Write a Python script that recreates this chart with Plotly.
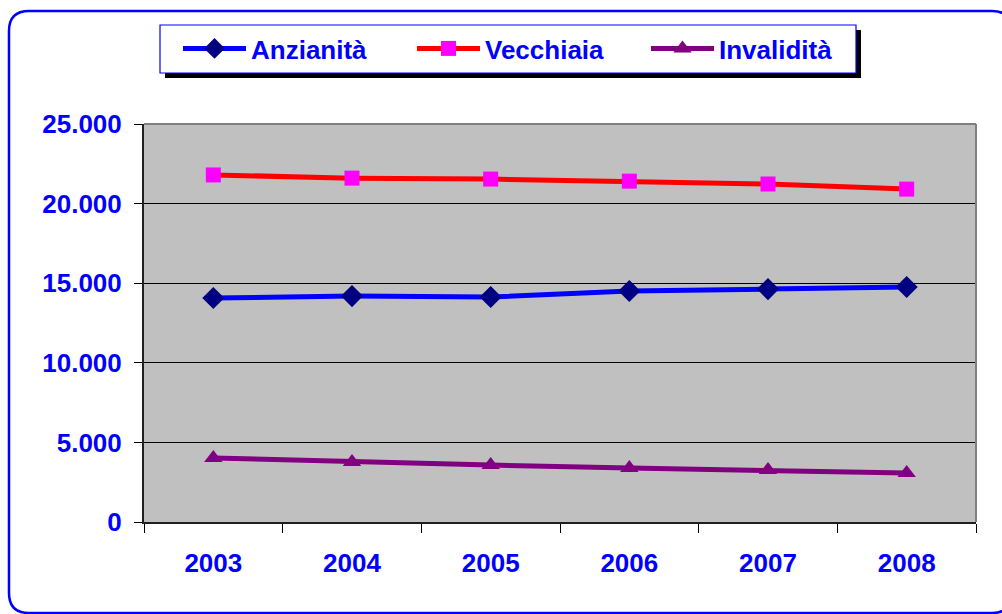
import plotly.graph_objects as go

years = ["2003", "2004", "2005", "2006", "2007", "2008"]
anzianita = [14070, 14190, 14130, 14510, 14630, 14760]
vecchiaia = [21800, 21600, 21540, 21410, 21230, 20910]
invalidita = [4020, 3770, 3580, 3390, 3270, 3080]
y_ticks = [0, 5000, 10000, 15000, 20000, 25000]

W, H = 1002, 614
L, R, T, B = 144, 26, 124, 92
PW, PH = W - L - R, H - T - B

def px(x):
    return (x - L) / PW

def py(y):
    return (H - B - y) / PH

FONT = "Liberation Sans, Arial, sans-serif"
BLUE = "#0000FF"

fig = go.Figure()
fig.add_trace(go.Scatter(x=years, y=anzianita, name="Anzianità", mode="lines+markers",
                         line=dict(color="#0000FF", width=5),
                         marker=dict(symbol="diamond", size=17, color="#000080")))
fig.add_trace(go.Scatter(x=years, y=vecchiaia, name="Vecchiaia", mode="lines+markers",
                         line=dict(color="#FF0000", width=5),
                         marker=dict(symbol="square", size=15, color="#FF00FF")))
fig.add_trace(go.Scatter(x=years, y=invalidita, name="Invalidità", mode="lines+markers",
                         line=dict(color="#800080", width=5),
                         marker=dict(symbol="triangle-up", size=16, color="#800080")))

# outer rounded border
x0, y0, x1, y1, r = 9, 11, 1012, 613, 20
path = (f"M {px(x0)},{py(y0 + r)} Q {px(x0)},{py(y0)} {px(x0 + r)},{py(y0)} "
        f"L {px(x1 - r)},{py(y0)} Q {px(x1)},{py(y0)} {px(x1)},{py(y0 + r)} "
        f"L {px(x1)},{py(y1 - r)} Q {px(x1)},{py(y1)} {px(x1 - r)},{py(y1)} "
        f"L {px(x0 + r)},{py(y1)} Q {px(x0)},{py(y1)} {px(x0)},{py(y1 - r)} Z")
shapes = [
    dict(type="path", path=path, xref="paper", yref="paper",
         line=dict(color=BLUE, width=2.5), layer="below"),
    # legend shadow and box
    dict(type="rect", xref="paper", yref="paper", x0=px(165), x1=px(861), y0=py(30), y1=py(78),
         fillcolor="black", line=dict(width=0), layer="below"),
    dict(type="rect", xref="paper", yref="paper", x0=px(160), x1=px(856), y0=py(25), y1=py(73),
         fillcolor="white", line=dict(width=1.2, color=BLUE), layer="below"),
    # plot frame top / right
    dict(type="line", xref="paper", yref="paper", x0=0, x1=1, y0=1, y1=1,
         line=dict(color="#808080", width=2)),
    dict(type="line", xref="paper", yref="paper", x0=1, x1=1, y0=0, y1=1,
         line=dict(color="#808080", width=2)),
]

fig.update_layout(
    width=W, height=H,
    margin=dict(l=L, r=R, t=T, b=B, autoexpand=False),
    paper_bgcolor="white", plot_bgcolor="#C0C0C0",
    separators=",.",
    font=dict(family=FONT, color=BLUE, size=26),
    shapes=shapes,
    showlegend=True,
    legend=dict(orientation="h", x=px(160), y=py(25), xanchor="left", yanchor="top",
                bgcolor="rgba(0,0,0,0)", borderwidth=0, indentation=18,
                font=dict(family=FONT, size=26, color=BLUE, weight="bold"),
                entrywidth=138, entrywidthmode="pixels", itemwidth=63,
                traceorder="normal"),
    xaxis=dict(type="category", range=[-0.5, 5.5], tickson="boundaries",
               ticks="outside", ticklen=9, tickcolor="black", tickwidth=1,
               showgrid=False, showline=True, linecolor="#202020", linewidth=2,
               tickfont=dict(family=FONT, size=26, color=BLUE, weight="bold"),
               ticklabelstandoff=17, fixedrange=True),
    yaxis=dict(range=[0, 25000], tickvals=y_ticks, tickformat=",d",
               ticks="outside", ticklen=8, tickcolor="black", tickwidth=1,
               showgrid=True, gridcolor="#000000", gridwidth=1, zeroline=False,
               showline=True, linecolor="#202020", linewidth=2,
               tickfont=dict(family=FONT, size=26, color=BLUE, weight="bold"),
               ticklabelstandoff=7, fixedrange=True),
)

fig.write_html("out.html", config={"displayModeBar": False},
               post_script="document.body.style.margin='0px';")
